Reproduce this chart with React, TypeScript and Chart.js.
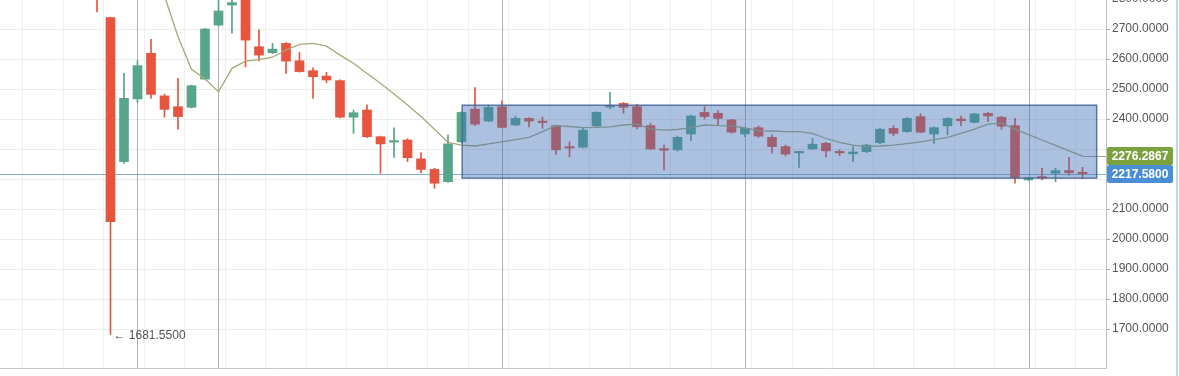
import { useEffect, useRef } from 'react';
import { Chart, registerables } from 'chart.js';

Chart.register(...registerables);

// ---- data ----
const OPEN = [
  2830, 2738, 2258, 2467, 2619, 2477, 2441, 2439, 2533, 2713,
  2780, 2805, 2641, 2621, 2652, 2594, 2561, 2543, 2528, 2406,
  2430, 2341, 2323, 2330, 2267, 2232, 2191, 2324, 2433, 2393,
  2441, 2380, 2402, 2390, 2378, 2305, 2306, 2377, 2440, 2452,
  2441, 2378, 2298, 2297, 2350, 2422, 2419, 2397, 2350, 2371,
  2339, 2308, 2287, 2300, 2319, 2289, 2284, 2291, 2321, 2369,
  2358, 2408, 2350, 2377, 2400, 2389, 2419, 2406, 2378, 2197,
  2205, 2219, 2228, 2219,
];
const HIGH = [
  2850, 2740, 2552, 2595, 2666, 2483, 2536, 2513, 2702, 2800,
  2805, 2810, 2697, 2652, 2655, 2622, 2571, 2556, 2531, 2430,
  2447, 2343, 2371, 2334, 2288, 2236, 2347, 2424, 2505, 2446,
  2461, 2410, 2404, 2406, 2380, 2324, 2372, 2424, 2489, 2455,
  2449, 2386, 2313, 2343, 2413, 2441, 2428, 2399, 2372, 2377,
  2347, 2313, 2292, 2336, 2322, 2297, 2308, 2316, 2369, 2378,
  2405, 2417, 2374, 2405, 2410, 2419, 2422, 2409, 2402, 2206,
  2236, 2236, 2272, 2239,
];
const LOW = [
  2757, 1681.55, 2252, 2455, 2469, 2406, 2366, 2437, 2530, 2710,
  2686, 2574, 2594, 2618, 2552, 2556, 2469, 2521, 2404, 2352,
  2338, 2219, 2272, 2258, 2221, 2169, 2189, 2320, 2378, 2391,
  2370, 2378, 2374, 2369, 2282, 2274, 2304, 2375, 2434, 2419,
  2367, 2298, 2230, 2293, 2328, 2400, 2380, 2353, 2341, 2339,
  2286, 2277, 2239, 2298, 2274, 2278, 2258, 2288, 2318, 2344,
  2355, 2354, 2319, 2347, 2378, 2387, 2391, 2366, 2186, 2195,
  2197, 2191, 2213, 2202,
];
const CLOSE = [
  2805, 2058, 2469, 2578, 2482, 2432, 2408, 2511, 2700, 2760,
  2788, 2663, 2613, 2633, 2593, 2558, 2541, 2530, 2406, 2421,
  2341, 2317, 2325, 2271, 2232, 2186, 2317, 2422, 2383, 2439,
  2372, 2402, 2393, 2388, 2297, 2303, 2363, 2422, 2444, 2439,
  2374, 2300, 2296, 2339, 2410, 2408, 2402, 2356, 2369, 2343,
  2308, 2283, 2289, 2316, 2294, 2287, 2290, 2313, 2366, 2352,
  2402, 2356, 2371, 2402, 2394, 2417, 2410, 2376, 2204, 2204,
  2203, 2228, 2221, 2217.58,
];
const MA = [
  null, null, null, null, null, 2810, 2674, 2566, 2534, 2491,
  2569, 2593, 2598, 2606, 2630, 2649, 2652, 2643, 2613, 2586,
  2552, 2519, 2483, 2447, 2408, 2366, 2322, 2313, 2310, 2317,
  2324, 2331, 2339, 2358, 2378, 2375, 2371, 2372, 2374, 2380,
  2383, 2367, 2363, 2365, 2371, 2380, 2378, 2377, 2370, 2361,
  2360, 2358, 2358, 2352, 2335, 2322, 2313, 2308, 2310, 2313,
  2318, 2324, 2331, 2339, 2352, 2366, 2383, 2386, 2366, 2348,
  2330, 2312, 2294, 2276.2867,
];
const Y_TICKS = [1700, 1800, 1900, 2000, 2100, 2200, 2300, 2400, 2500, 2600, 2700];
const Y_TICKS_HIDDEN = [2200, 2300];
const Y_TOP_CUT_LABEL = 2800;
const X_GRID = [-4, -1, 2, 5, 8, 11, 14, 17, 20, 23, 26, 29, 32, 35, 38, 41, 44, 47, 50, 53, 56, 59, 62, 65, 68, 71, 74];
const SEPARATORS = [3, 9, 30, 48, 69];
const RANGE_BOX = { x0: 27.05, x1: 74.05, top: 2446, bottom: 2203 };
const LAST_PRICE = 2217.58;
const LAST_MA = 2276.2867;
const LOW_MARK_INDEX = 1;
const LOW_MARK_VALUE = 1681.55;

const X_MIN = -7.185;
const X_MAX = 74.74;
const Y_MIN = 1570;
const Y_MAX = 2796.7;

const UP = '#57A58A';
const DOWN = '#E8553F';
const FONT = '"Liberation Sans", Arial, sans-serif';

const overlay = {
  id: 'overlay',
  beforeDatasetsDraw(chart: any) {
    const { ctx, chartArea: a, scales } = chart;
    const x = scales.x, y = scales.y;
    ctx.save();
    ctx.beginPath();
    ctx.rect(a.left, a.top, a.right - a.left, a.bottom - a.top);
    ctx.clip();
    ctx.lineWidth = 1;
    ctx.strokeStyle = '#b2b2b2';
    SEPARATORS.forEach((i) => {
      const px = Math.round(x.getPixelForValue(i)) + 0.5;
      ctx.beginPath();
      ctx.moveTo(px, a.top);
      ctx.lineTo(px, a.bottom);
      ctx.stroke();
    });
    const py = Math.round(y.getPixelForValue(LAST_PRICE)) + 0.5;
    ctx.strokeStyle = 'rgba(110,160,195,0.85)';
    ctx.beginPath();
    ctx.moveTo(a.left, py);
    ctx.lineTo(a.right, py);
    ctx.stroke();
    const my = Math.round(y.getPixelForValue(LAST_MA)) + 0.5;
    ctx.strokeStyle = 'rgba(130,140,120,0.8)';
    ctx.beginPath();
    ctx.moveTo(x.getPixelForValue(MA.length - 1), my);
    ctx.lineTo(a.right, my);
    ctx.stroke();
    ctx.restore();
  },
  afterDatasetsDraw(chart: any) {
    const { ctx, chartArea: a, scales } = chart;
    const x = scales.x, y = scales.y;
    ctx.save();
    // range rectangle
    const rx0 = x.getPixelForValue(RANGE_BOX.x0);
    const rx1 = x.getPixelForValue(RANGE_BOX.x1);
    const ry0 = y.getPixelForValue(RANGE_BOX.top);
    const ry1 = y.getPixelForValue(RANGE_BOX.bottom);
    ctx.fillStyle = 'rgba(62,112,182,0.43)';
    ctx.fillRect(rx0, ry0, rx1 - rx0, ry1 - ry0);
    ctx.strokeStyle = 'rgba(70,100,150,0.85)';
    ctx.lineWidth = 1.5;
    ctx.strokeRect(rx0, ry0, rx1 - rx0, ry1 - ry0);

    // low annotation
    ctx.fillStyle = '#555';
    ctx.font = '12px ' + FONT;
    ctx.textBaseline = 'middle';
    ctx.textAlign = 'left';
    const lx = x.getPixelForValue(LOW_MARK_INDEX) + 3;
    const ly = y.getPixelForValue(LOW_MARK_VALUE) + 1;
    ctx.fillText('\u2190 ' + LOW_MARK_VALUE.toFixed(4), lx, ly);

    // partially cut top axis label
    const ty = y.getPixelForValue(Y_TOP_CUT_LABEL);
    ctx.fillStyle = '#555';
    ctx.fillText(Y_TOP_CUT_LABEL.toFixed(4), a.right + 6, ty);
    ctx.strokeStyle = '#aaa';
    ctx.lineWidth = 1;
    ctx.beginPath();
    ctx.moveTo(a.right, Math.round(ty) + 0.5);
    ctx.lineTo(a.right + 4, Math.round(ty) + 0.5);
    ctx.stroke();

    // price labels
    const boxL = a.right + 1;
    const boxW = 66;
    const boxH = 18;
    const drawLabel = (v: number, bg: string) => {
      const cy = y.getPixelForValue(v);
      ctx.fillStyle = bg;
      const top = Math.round(cy - boxH / 2);
      ctx.beginPath();
      if ((ctx as any).roundRect) (ctx as any).roundRect(boxL, top, boxW, boxH, 2);
      else ctx.rect(boxL, top, boxW, boxH);
      ctx.fill();
      ctx.fillStyle = '#ffffff';
      ctx.font = 'bold 12px ' + FONT;
      ctx.textAlign = 'center';
      ctx.textBaseline = 'middle';
      ctx.fillText(v.toFixed(4), boxL + boxW / 2, top + boxH / 2 + 1);
    };
    drawLabel(LAST_MA, '#7BA23F');
    drawLabel(LAST_PRICE, '#4A8FD6');

    // right edge border
    ctx.strokeStyle = '#c5d6e8';
    ctx.lineWidth = 2;
    ctx.beginPath();
    ctx.moveTo(chart.width - 2, 0);
    ctx.lineTo(chart.width - 2, chart.height);
    ctx.stroke();
    ctx.restore();
  },
};

export default function App() {
  const ref = useRef<HTMLCanvasElement | null>(null);
  useEffect(() => {
    if (!ref.current) return;
    const idx = OPEN.map((_, i) => i);
    const colors = idx.map((i) => (CLOSE[i] >= OPEN[i] ? UP : DOWN));
    const chart = new Chart(ref.current, {
      type: 'bar',
      data: {
        datasets: [
          {
            type: 'line',
            label: 'MA',
            data: idx.map((i) => ({ x: i, y: MA[i] })) as any,
            borderColor: '#A6AA78',
            borderWidth: 1.3,
            pointRadius: 0,
            tension: 0,
            spanGaps: false,
            order: 0,
          } as any,
          {
            label: 'body',
            data: idx.map((i) => ({ x: i, y: [OPEN[i], CLOSE[i]] })) as any,
            backgroundColor: colors,
            borderWidth: 0,
            barThickness: 9,
            minBarLength: 1.5,
            grouped: false,
            order: 1,
          } as any,
          {
            label: 'wick',
            data: idx.map((i) => ({ x: i, y: [LOW[i], HIGH[i]] })) as any,
            backgroundColor: colors,
            borderWidth: 0,
            barThickness: 1,
            grouped: false,
            order: 2,
          } as any,
        ],
      },
      options: {
        animation: false,
        responsive: false,
        devicePixelRatio: 1,
        layout: { padding: 0 },
        plugins: { legend: { display: false }, tooltip: { enabled: false } },
        scales: {
          x: {
            type: 'linear',
            min: X_MIN,
            max: X_MAX,
            offset: false,
            ticks: { display: false },
            grid: { color: '#efefef', drawTicks: false },
            border: { display: true, color: '#c8c8c8' },
            afterBuildTicks: (s: any) => {
              s.ticks = X_GRID.map((v) => ({ value: v }));
            },
            afterFit: (s: any) => {
              s.height = 8;
              s.paddingLeft = 0;
              s.paddingRight = 0;
              s.paddingTop = 0;
              s.paddingBottom = 0;
            },
          },
          y: {
            type: 'linear',
            position: 'right',
            min: Y_MIN,
            max: Y_MAX,
            afterBuildTicks: (s: any) => {
              s.ticks = Y_TICKS.map((v) => ({ value: v }));
            },
            afterFit: (s: any) => {
              s.width = 73;
              s.paddingTop = 0;
              s.paddingBottom = 0;
              s.paddingLeft = 0;
              s.paddingRight = 0;
            },
            ticks: {
              color: '#555',
              padding: 2,
              font: { size: 12, family: FONT },
              callback: (v: any) => (Y_TICKS_HIDDEN.includes(Number(v)) ? '' : Number(v).toFixed(4)),
            },
            grid: { color: '#ececec', tickColor: '#aaa', tickLength: 4, drawTicks: true },
            border: { display: true, color: '#c0c0c0' },
          },
        },
      } as any,
      plugins: [overlay],
    });
    return () => chart.destroy();
  }, []);
  return (
    <div style={{ position: 'fixed', left: 0, top: 0, width: 1179, height: 376, background: '#fff' }}>
      <canvas ref={ref} width={1179} height={376} style={{ display: 'block' }} />
    </div>
  );
}
